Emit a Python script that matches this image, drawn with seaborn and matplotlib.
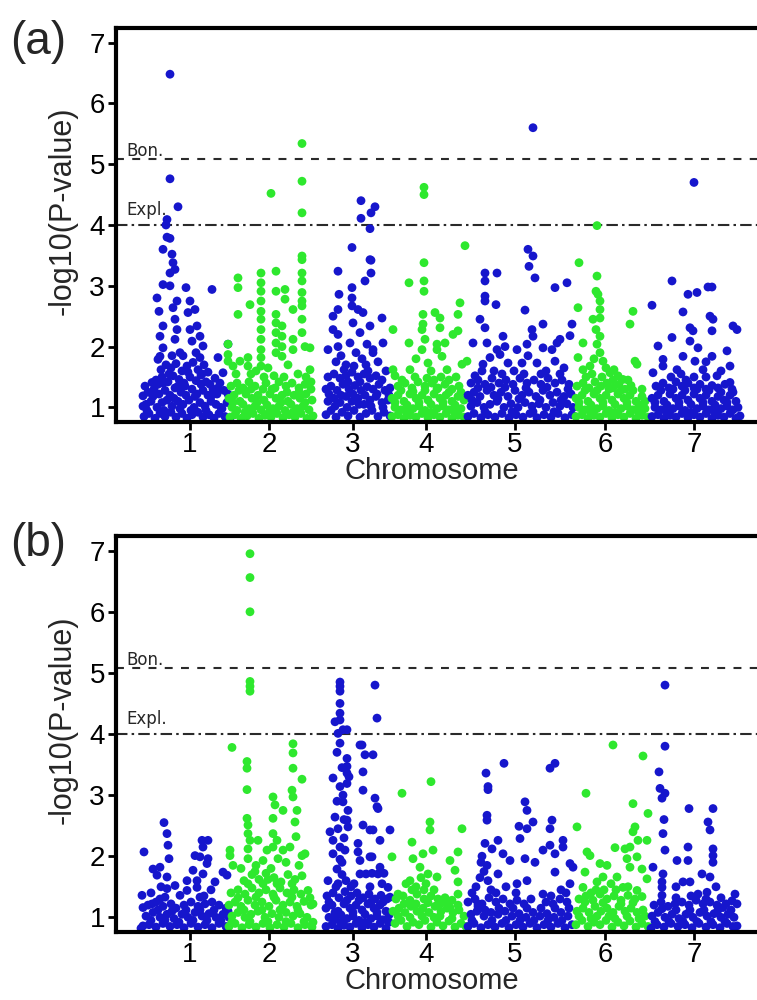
import pandas as pd
import seaborn as sns
import matplotlib.pyplot as plt

# chromosome layout (cumulative position, arbitrary Mb units)
chrom_labels = ['1', '2', '3', '4', '5', '6', '7']
chrom_start = [24, 112, 204, 272, 346, 454, 532]
chrom_end = [124, 194, 270, 348, 452, 524, 624]
bon_line = 5.08
expl_line = 4.0

# ---- panel (a): (cumulative position, -log10 p) per chromosome ----
a_chr1 = [(54,6.48),(54,4.76),(62,4.30),(51,4.09),(50,4.0),(51,3.8),(54,3.78),(47,3.6),(56,3.52),(57,3.38),
          (59,3.27),(54,3.21),(47,3.02),(54,3.0),(41,2.8),(61,2.75),(43,2.58),(57,2.64),(59,2.45),(47,2.34),
          (61,2.28),(44,2.17),(59,2.12),(47,1.98),(64,1.9),(44,1.84),(42,1.79),
          (70,2.97),(74,2.75),(79,2.61),(72,2.56),(81,2.34),(74,2.28),(84,2.17),(76,2.09),(87,2.01),(84,1.82),
          (96,2.94),(112,2.04),(102,1.82),(107,1.57),(94,1.38),(29,1.35),(27,1.19),(27,1.02),(36,1.41),
          (45,1.62),(50,1.7),(55,1.65),(60,1.72),(66,1.6),(71,1.68),(77,1.74),(82,1.62),(88,1.7),(92,1.58),
          (40,1.45),(46,1.5),(52,1.42),(57,1.52),(63,1.46),(68,1.4),(74,1.5),(80,1.44),(85,1.53),(90,1.42),(99,1.48),(104,1.4),
          (32,1.25),(38,1.3),(43,1.22),(49,1.28),(54,1.2),(59,1.32),(65,1.25),(70,1.2),(76,1.3),(81,1.22),(87,1.28),
          (92,1.2),(97,1.3),(101,1.22),(108,1.28),
          (30,1.05),(35,1.1),(41,1.0),(46,1.08),(51,1.12),(56,1.02),(62,1.1),(67,1.05),(73,1.12),(78,1.0),(84,1.08),
          (89,1.02),(95,1.1),(100,1.05),(105,1.0),(111,1.08),
          (28,0.85),(33,0.9),(39,0.82),(44,0.9),(49,0.85),(55,0.92),(60,0.84),(66,0.9),(71,0.82),(76,0.88),(82,0.92),
          (87,0.84),(93,0.88),(98,0.82),(103,0.9),(109,0.85),(114,0.82),
          (31,0.95),(37,1.18),(42,1.38),(48,0.95),(53,1.55),(58,1.15),(64,0.98),(69,1.35),(75,0.95),(79,1.18),(85,1.38),
          (90,0.95),(96,1.2),(102,1.32),(106,0.98),(112,1.22),(47,1.4),(62,1.35),(72,1.58),(86,1.55),(56,1.85),(67,1.85),(80,1.9)]
a_chr2 = [(155,4.52),(186,5.34),(186,4.72),(186,4.2),
          (122,3.13),(122,2.97),(122,2.53),(134,2.69),(145,3.21),(145,3.05),(145,2.91),(145,2.75),(145,2.58),(145,2.45),
          (145,2.28),(145,2.12),(145,1.95),(145,1.82),(145,1.68),(160,3.24),(160,2.91),(160,2.53),(160,2.39),(160,2.23),
          (160,2.06),(160,1.9),(169,2.94),(169,2.78),(166,2.34),(166,2.17),(166,2.0),(166,1.84),(177,2.61),(177,2.12),
          (177,1.95),(186,3.49),(186,3.43),(186,3.21),(186,3.08),(186,2.89),(186,2.75),(186,2.67),(186,2.45),(186,2.23),
          (189,2.0),(194,1.98),(194,1.62),(112,2.04),(112,1.87),(112,1.76),(117,1.68),(132,1.82),(132,1.68),(124,1.76),
          (140,1.6),(152,1.65),(172,1.7),(182,1.55),(190,1.5),
          (115,1.35),(121,1.4),(127,1.32),(133,1.42),(139,1.35),(150,1.4),(156,1.3),(163,1.42),(170,1.35),(176,1.4),
          (183,1.32),(189,1.38),(195,1.3),
          (113,1.15),(118,1.2),(124,1.1),(130,1.22),(136,1.15),(142,1.2),(148,1.12),(154,1.22),(160,1.15),(166,1.2),
          (172,1.1),(178,1.2),(184,1.15),(190,1.22),(196,1.12),
          (116,1.0),(121,0.95),(127,1.05),(133,0.98),(139,1.02),(145,0.96),(151,1.04),(157,0.98),(163,1.02),(169,0.95),
          (175,1.05),(181,0.98),(187,1.02),(193,0.96),
          (114,0.84),(119,0.88),(125,0.82),(131,0.86),(137,0.9),(143,0.82),(149,0.87),(155,0.84),(161,0.9),(167,0.83),
          (173,0.88),(179,0.84),(185,0.9),(191,0.82),(197,0.86),
          (117,1.08),(123,1.28),(129,0.92),(135,1.3),(141,1.08),(147,1.3),(153,0.92),(159,1.32),(165,1.08),(171,1.25),
          (177,0.92),(183,1.25),(189,1.08),(195,1.42),(135,1.55),(158,1.52),(168,1.5),(120,1.55),(148,1.5)]
a_chr3 = [(245,4.4),(245,4.11),(255,4.2),(259,4.3),(254,3.94),(236,3.63),(222,3.24),(223,2.86),(222,2.61),(217,2.5),
          (236,2.97),(236,2.8),(236,2.67),(237,2.39),(242,2.61),(247,2.56),(244,2.23),(249,3.08),(255,3.21),(255,3.42),
          (254,3.43),(266,2.47),(254,2.34),(267,2.06),(257,1.9),(212,1.95),(217,2.28),(234,2.06),(251,2.04),(257,1.95),
          (222,2.2),(222,2.0),(225,1.85),(220,1.75),(240,1.9),(246,1.8),(230,1.7),(262,1.75),(270,1.6),(250,1.7),
          (212,1.5),(218,1.55),(224,1.48),(230,1.52),(236,1.58),(242,1.5),(248,1.55),(254,1.48),(260,1.52),(266,1.45),
          (210,1.3),(215,1.35),(221,1.28),(227,1.38),(233,1.3),(239,1.36),(245,1.28),(251,1.34),(257,1.3),(263,1.38),
          (269,1.28),(274,1.32),
          (212,1.1),(218,1.15),(224,1.08),(230,1.18),(236,1.1),(242,1.15),(248,1.05),(254,1.12),(260,1.18),(266,1.08),(272,1.12),
          (210,0.88),(215,0.95),(220,0.84),(226,0.92),(232,0.86),(238,0.95),(244,0.84),(250,0.9),(256,0.95),(262,0.85),
          (268,0.92),(274,0.86),
          (213,1.22),(219,1.02),(225,1.2),(231,1.0),(237,1.22),(243,1.05),(249,1.2),(255,1.02),(261,1.22),(267,1.0),
          (273,1.2),(228,1.62),(238,1.68),(252,1.6),(244,1.42),(232,1.42)]
a_chr4 = [(349,3.66),(308,3.38),(308,3.08),(308,2.91),(293,3.05),(307,2.53),(307,2.37),(306,2.28),(319,2.56),(324,2.47),
          (324,2.31),(344,2.72),(342,2.53),(342,2.26),(277,2.28),(293,2.06),(309,2.12),(321,2.04),(329,2.06),(337,2.2),
          (351,1.76),(346,1.71),(277,1.62),(279,1.52),(294,1.62),(321,1.95),(326,1.84),(331,1.62),(306,1.95),(312,1.73),
          (308,4.62),(308,4.5),(300,1.8),(315,1.6),(340,1.5),(286,1.45),(318,1.45),
          (282,1.35),(289,1.4),(296,1.32),(302,1.42),(309,1.35),(316,1.4),(322,1.32),(329,1.38),(336,1.3),(343,1.35),
          (276,1.15),(282,1.2),(288,1.1),(294,1.22),(300,1.15),(306,1.2),(312,1.12),(318,1.22),(324,1.15),(330,1.2),
          (336,1.1),(342,1.18),(348,1.12),
          (279,1.0),(285,0.96),(291,1.04),(297,0.98),(303,1.02),(309,0.95),(315,1.05),(321,0.98),(327,1.02),(333,0.96),
          (339,1.04),(345,0.98),
          (276,0.85),(282,0.88),(288,0.82),(294,0.87),(300,0.84),(306,0.9),(312,0.83),(318,0.88),(324,0.84),(330,0.9),
          (336,0.82),(342,0.87),(348,0.84),
          (279,1.08),(285,1.28),(291,0.92),(297,1.26),(303,1.08),(309,1.28),(315,0.92),(321,1.3),(327,1.08),(333,1.25),
          (339,0.92),(345,1.25),(299,1.5),(311,1.48),(325,1.5),(333,1.45)]
a_chr5 = [(417,5.6),(412,3.6),(417,3.49),(413,3.32),(419,3.13),(369,3.21),(369,3.08),(381,3.21),(369,2.83),(369,2.75),
          (380,2.69),(364,2.45),(369,2.31),(409,2.6),(427,2.37),(416,2.28),(417,2.17),(387,2.17),(439,2.97),(451,3.05),
          (444,2.12),(441,2.06),(456,2.37),(454,2.18),(357,2.06),(371,2.06),(381,1.95),(389,2.0),(401,1.95),(411,2.04),
          (427,1.98),(436,1.95),(374,1.82),(384,1.87),(392,1.73),(406,1.73),(421,1.73),(439,1.76),(367,1.71),(359,1.52),
          (398,1.6),(430,1.6),(448,1.65),(412,1.85),(378,1.6),
          (355,1.4),(362,1.45),(369,1.38),(376,1.48),(383,1.4),(390,1.45),(397,1.38),(404,1.48),(411,1.4),(418,1.45),
          (425,1.38),(432,1.48),(439,1.4),(446,1.45),(453,1.38),
          (352,1.2),(358,1.25),(364,1.18),(371,1.28),(378,1.2),(385,1.25),(392,1.18),(399,1.28),(406,1.2),(413,1.25),
          (420,1.18),(427,1.28),(434,1.2),(441,1.25),(448,1.18),(455,1.22),
          (355,1.02),(361,1.08),(368,1.0),(374,1.05),(381,1.1),(388,1.0),(395,1.06),(402,1.0),(409,1.08),(416,1.02),
          (423,1.06),(430,1.0),(437,1.08),(444,1.02),(451,1.06),(457,1.0),
          (352,0.85),(358,0.9),(365,0.83),(372,0.88),(379,0.84),(386,0.9),(393,0.83),(400,0.88),(407,0.84),(414,0.9),
          (421,0.83),(428,0.88),(435,0.84),(442,0.9),(449,0.83),(456,0.88),
          (356,1.12),(362,1.32),(369,0.93),(375,1.33),(382,1.14),(389,1.33),(396,0.93),(403,1.14),(410,1.32),(417,0.93),
          (424,1.12),(431,1.33),(438,0.93),(445,1.12),(452,1.3),(366,1.6),(386,1.55),(408,1.55),(425,1.55),(444,1.55)]
a_chr6 = [(481,3.99),(463,3.38),(481,3.16),(480,2.91),(482,2.86),(484,2.75),(484,2.61),(462,2.64),(477,2.45),(484,2.47),
          (480,2.28),(484,2.17),(467,2.06),(481,2.04),(517,2.58),(514,2.37),(462,1.82),(484,1.9),(487,1.76),(519,1.76),
          (521,1.71),(467,1.62),(474,1.68),(494,1.57),(502,1.52),(507,1.46),(526,1.3),(478,1.8),(490,1.65),(470,1.5),(498,1.62),
          (461,1.35),(467,1.4),(473,1.32),(479,1.42),(485,1.35),(491,1.4),(497,1.32),(503,1.38),(509,1.3),(515,1.36),
          (460,1.15),(466,1.2),(472,1.1),(478,1.22),(484,1.15),(490,1.2),(496,1.12),(502,1.22),(508,1.15),(514,1.2),
          (520,1.1),(526,1.18),
          (463,1.0),(469,0.96),(475,1.04),(481,0.98),(487,1.02),(493,0.95),(499,1.05),(505,0.98),(511,1.02),(517,0.96),
          (523,1.04),(529,0.98),
          (460,0.85),(466,0.88),(472,0.82),(478,0.87),(484,0.84),(490,0.9),(496,0.83),(502,0.88),(508,0.84),(514,0.9),
          (520,0.82),(526,0.87),(532,0.84),
          (463,1.08),(469,1.28),(475,0.92),(481,1.28),(487,1.08),(493,1.3),(499,0.92),(505,1.28),(511,1.08),(517,1.28),
          (523,0.92),(529,1.1),(476,1.55),(486,1.5),(497,1.45),(512,1.45)]
a_chr7 = [(578,4.7),(556,3.08),(572,2.86),(581,2.89),(592,2.98),(596,2.98),(536,2.68),(567,2.57),(594,2.5),(597,2.45),
          (574,2.31),(577,2.26),(596,2.26),(617,2.34),(621,2.28),(556,2.15),(574,2.09),(542,2.01),(582,1.98),(567,1.84),
          (596,1.84),(611,1.93),(547,1.79),(579,1.76),(614,1.68),(547,1.68),(561,1.62),(537,1.57),(614,1.41),(601,1.52),
          (587,1.62),(555,1.5),(570,1.45),(590,1.75),(605,1.6),
          (540,1.35),(547,1.4),(553,1.32),(560,1.42),(566,1.35),(572,1.4),(578,1.32),(584,1.38),(590,1.3),(596,1.36),
          (602,1.32),(609,1.38),(616,1.3),
          (536,1.15),(542,1.2),(548,1.1),(554,1.22),(560,1.15),(566,1.2),(572,1.12),(578,1.22),(584,1.15),(590,1.2),
          (596,1.1),(602,1.18),(608,1.12),(614,1.2),(620,1.1),
          (539,1.0),(545,0.96),(551,1.04),(557,0.98),(563,1.02),(569,0.95),(575,1.05),(581,0.98),(587,1.02),(593,0.96),
          (599,1.04),(605,0.98),(611,1.02),(617,0.96),
          (536,0.85),(542,0.88),(548,0.82),(554,0.87),(560,0.84),(566,0.9),(572,0.83),(578,0.88),(584,0.84),(590,0.9),
          (596,0.82),(602,0.87),(608,0.84),(614,0.9),(620,0.82),(624,0.86),
          (539,1.08),(545,1.28),(551,0.92),(557,1.3),(563,1.08),(569,1.28),(575,0.92),(581,1.3),(587,1.08),(593,1.28),
          (599,0.92),(605,1.25),(611,1.08),(617,1.25),(622,1.0),(578,1.5),(590,1.5),(565,1.55)]

# ---- panel (b) ----
b_chr1 = [(28,2.07),(48,2.55),(51,2.37),(52,2.18),(53,1.96),(37,1.79),(44,1.82),(41,1.69),(51,1.66),(59,1.52),
          (51,1.47),(49,1.33),(26,1.36),(27,1.16),(27,0.86),(36,1.22),
          (86,2.26),(92,2.26),(87,2.15),(79,2.01),(84,1.99),(92,1.96),(91,1.88),(77,1.77),(87,1.71),(71,1.6),(81,1.6),
          (99,1.58),(107,1.74),(111,1.69),(71,1.44),(81,1.49),(84,1.33),(64,1.36),(95,1.45),(45,1.5),(35,1.4),
          (32,1.2),(40,1.25),(47,1.18),(55,1.22),(68,1.2),(75,1.25),(82,1.18),(89,1.22),(96,1.25),(103,1.2),(110,1.15),
          (30,1.02),(37,1.08),(44,1.0),(51,1.05),(58,0.98),(66,1.05),(72,1.0),(79,1.08),(86,1.02),(93,1.06),(100,1.0),
          (107,1.05),(113,1.0),
          (25,0.82),(33,0.88),(40,0.84),(47,0.9),(54,0.85),(61,0.88),(68,0.83),(75,0.9),(82,0.84),(89,0.88),(96,0.83),
          (103,0.9),(110,0.85),
          (35,0.95),(42,1.12),(49,0.95),(56,1.1),(63,0.92),(70,1.12),(77,0.95),(84,1.12),(91,0.95),(98,1.12),(105,0.95),
          (112,1.1),(60,1.15),(44,1.3),(88,1.35)]
b_chr2 = [(134,6.95),(134,6.56),(134,6.0),(134,4.86),(134,4.78),(134,4.7),(116,3.78),(177,3.84),(131,3.55),(131,3.44),
          (131,3.09),(131,2.62),(132,2.51),(132,2.37),(134,2.26),(132,2.12),(132,1.96),(114,2.1),(114,2.01),(117,1.85),
          (142,2.26),(157,2.97),(159,2.84),(167,2.75),(177,3.69),(177,3.44),(186,3.26),(176,3.08),(177,2.97),(181,2.75),
          (179,2.56),(180,2.32),(174,2.15),(186,2.01),(189,2.04),(157,2.62),(157,2.37),(161,2.26),(151,2.1),(157,2.15),
          (162,1.96),(147,1.93),(167,2.1),(197,1.22),(197,0.92),(170,1.9),(183,1.85),(125,1.8),(140,1.85),(155,1.8),
          (128,1.6),(136,1.7),(143,1.62),(150,1.72),(158,1.65),(165,1.58),(172,1.7),(179,1.62),(186,1.68),
          (115,1.4),(122,1.45),(129,1.38),(136,1.48),(143,1.4),(150,1.45),(157,1.38),(164,1.48),(171,1.4),(178,1.45),
          (185,1.38),(192,1.44),
          (113,1.2),(119,1.25),(125,1.18),(132,1.28),(139,1.2),(146,1.25),(153,1.18),(160,1.28),(167,1.2),(174,1.25),
          (181,1.18),(188,1.26),(195,1.2),
          (116,1.02),(122,1.08),(129,1.0),(135,1.05),(142,1.1),(149,1.0),(156,1.06),(163,1.0),(170,1.08),(177,1.02),
          (184,1.06),(191,1.0),
          (113,0.85),(119,0.9),(126,0.83),(133,0.88),(140,0.84),(147,0.9),(154,0.83),(161,0.88),(168,0.84),(175,0.9),
          (182,0.83),(189,0.88),(196,0.84),
          (116,0.93),(122,1.32),(128,1.12),(134,0.93),(140,1.33),(146,1.12),(152,0.93),(158,1.33),(164,1.12),(170,0.93),
          (176,1.33),(182,1.12),(188,0.93),(194,1.32),(132,1.55),(147,1.55),(161,1.55),(176,1.55),(139,1.75),(152,1.62)]
b_chr3 = [(224,4.85),(224,4.78),(224,4.7),(224,4.5),(224,4.34),(219,4.2),(224,4.23),(227,4.07),(231,4.07),(222,4.01),
          (224,3.85),(244,3.82),(259,4.8),(261,4.26),(246,3.82),(249,3.66),(231,3.6),(231,3.47),(231,3.36),(231,3.19),
          (227,3.0),(227,2.89),(232,2.75),(231,2.59),(232,2.48),(217,3.28),(224,3.14),(219,2.64),(214,2.4),(222,2.45),
          (217,2.26),(224,2.15),(217,2.04),(221,1.79),(247,3.38),(247,3.08),(259,2.95),(261,2.81),(247,2.51),(254,2.43),
          (242,2.21),(242,2.07),(244,1.93),(254,1.99),(244,1.71),(250,1.71),(256,1.72),(262,1.71),(268,1.72),(257,3.66),
          (262,2.78),(257,2.43),(274,2.43),(264,2.26),(256,1.99),(264,1.82),(272,1.49),(274,1.33),(228,2.3),(229,2.1),
          (226,1.9),(230,1.6),(222,1.55),(235,1.5),(212,1.6),
          (211,1.35),(217,1.4),(223,1.32),(229,1.42),(235,1.35),(241,1.4),(247,1.32),(253,1.38),(259,1.3),(265,1.36),(271,1.3),
          (210,1.15),(216,1.2),(222,1.1),(228,1.22),(234,1.15),(240,1.2),(246,1.12),(252,1.22),(258,1.15),(264,1.2),(270,1.1),
          (213,1.0),(219,0.96),(225,1.04),(231,0.98),(237,1.02),(243,0.95),(249,1.05),(255,0.98),(261,1.02),(267,0.96),(273,1.04),
          (210,0.85),(216,0.88),(222,0.82),(228,0.87),(234,0.84),(240,0.9),(246,0.83),(252,0.88),(258,0.84),(264,0.9),(270,0.82),
          (213,1.25),(219,1.08),(225,0.92),(231,1.28),(237,1.08),(243,1.28),(249,0.92),(255,1.25),(261,1.08),(267,1.25),
          (273,0.92),(220,1.5),(226,1.7),(224,1.95),(228,2.6),(221,2.9),(233,3.3),(238,1.55),(254,1.5),(266,1.55),
          (226,3.45),(221,3.7)]
b_chr4 = [(315,3.22),(286,3.03),(314,2.56),(314,2.43),(346,2.45),(296,2.23),(276,1.99),(297,1.96),(307,2.04),(317,2.1),
          (334,1.93),(342,2.07),(339,1.77),(342,1.58),(342,1.38),(304,1.82),(312,1.71),(321,1.66),(294,1.6),(282,1.38),
          (324,1.22),(334,1.16),(300,1.5),(310,1.55),(318,1.45),(305,1.65),
          (280,1.3),(287,1.35),(294,1.28),(301,1.38),(308,1.3),(315,1.35),(322,1.3),(329,1.32),(336,1.28),
          (277,1.1),(283,1.15),(289,1.08),(295,1.18),(301,1.1),(307,1.15),(313,1.08),(319,1.18),(325,1.1),(331,1.15),
          (337,1.08),(343,1.12),
          (279,0.9),(285,0.95),(291,0.85),(297,0.92),(303,0.88),(309,0.95),(315,0.84),(321,0.92),(327,0.86),(333,0.94),
          (339,0.84),(345,0.9),(350,0.85),
          (282,1.02),(288,1.22),(294,1.0),(300,1.22),(306,1.02),(312,1.24),(318,1.0),(324,1.02),(330,1.25),(336,0.98),
          (342,1.2),(348,1.02),(296,1.45),(308,1.45),(290,1.55)]
b_chr5 = [(388,3.52),(370,3.36),(372,3.14),(372,3.09),(371,2.67),(371,2.59),(409,2.89),(411,2.75),(417,2.56),(411,2.45),
          (403,2.49),(434,3.44),(439,3.52),(436,2.59),(434,2.45),(382,2.26),(369,2.21),(376,2.12),(404,2.29),(427,2.1),
          (434,2.18),(439,2.04),(447,2.26),(447,2.15),(454,1.88),(457,1.82),(371,1.85),(387,2.04),(394,1.93),(409,1.96),
          (419,1.9),(439,1.74),(454,1.55),(382,1.71),(401,1.55),(411,1.6),(427,1.38),(362,1.22),(365,1.9),(368,1.75),
          (372,1.6),(360,1.5),(375,1.45),(390,1.5),(445,1.45),
          (352,1.25),(359,1.3),(366,1.22),(373,1.32),(380,1.25),(387,1.3),(394,1.22),(401,1.28),(408,1.22),(415,1.3),
          (430,1.25),(437,1.22),(444,1.3),(451,1.25),
          (355,1.05),(361,1.1),(368,1.02),(375,1.08),(382,1.05),(389,1.1),(396,1.02),(403,1.06),(410,1.0),(417,1.08),
          (424,1.02),(431,1.06),(438,1.0),(445,1.08),(452,1.02),
          (352,0.85),(358,0.9),(365,0.83),(372,0.88),(379,0.84),(386,0.9),(393,0.83),(400,0.88),(407,0.84),(414,0.9),
          (421,0.83),(428,0.88),(435,0.84),(442,0.9),(449,0.83),(456,0.88),
          (356,0.95),(362,1.18),(369,1.12),(376,0.95),(383,1.15),(390,0.95),(397,1.15),(404,0.95),(411,1.15),(418,0.95),
          (425,1.15),(432,0.95),(439,1.15),(446,0.95),(453,1.15),(356,1.4),(364,1.65),(366,2.0),(380,1.4),(400,1.4),
          (435,1.35),(450,1.4)]
b_chr6 = [(497,3.82),(527,3.64),(470,3.03),(461,2.48),(517,2.86),(532,2.7),(519,2.48),(517,2.4),(471,2.07),(474,2.01),
          (499,2.14),(509,2.12),(514,2.15),(522,2.26),(531,2.26),(511,1.96),(521,1.99),(469,1.74),(484,1.88),(491,1.85),
          (514,1.82),(526,1.79),(531,1.63),(487,1.66),(501,1.66),(467,1.49),(481,1.58),(507,1.49),(521,1.44),(495,1.55),(475,1.4),
          (463,1.3),(470,1.35),(477,1.28),(484,1.38),(491,1.3),(498,1.35),(505,1.28),(512,1.36),(519,1.3),(526,1.34),
          (461,1.1),(467,1.15),(473,1.08),(479,1.18),(485,1.1),(491,1.15),(497,1.08),(503,1.18),(509,1.1),(515,1.15),
          (521,1.08),(527,1.12),
          (460,0.88),(466,0.95),(472,0.85),(478,0.92),(484,0.88),(490,0.95),(496,0.84),(502,0.92),(508,0.86),(514,0.94),
          (520,0.84),(526,0.9),(532,0.85),
          (463,1.02),(469,1.25),(475,0.98),(481,1.02),(487,1.24),(493,1.02),(499,0.98),(505,1.22),(511,1.02),(517,1.24),
          (523,0.98),(529,1.02),(488,1.45),(500,1.45),(512,1.5),(480,1.45)]
b_chr7 = [(549,4.8),(549,3.8),(543,3.38),(544,3.11),(549,3.03),(546,2.95),(547,2.37),(549,2.1),(537,1.82),(547,1.71),
          (546,1.58),(546,1.49),(546,1.36),(573,2.78),(597,2.78),(592,2.56),(594,2.43),(597,2.12),(597,2.01),(597,1.9),
          (572,2.15),(572,1.93),(561,1.93),(586,1.71),(594,1.66),(567,1.58),(574,1.58),(619,1.38),(621,1.22),(616,1.27),
          (607,1.16),(621,0.86),(582,1.38),(591,1.41),(548,2.6),(560,1.5),(600,1.5),
          (538,1.2),(545,1.25),(552,1.18),(559,1.22),(566,1.25),(573,1.2),(580,1.28),(587,1.22),(594,1.25),(601,1.2),(610,1.22),
          (536,1.02),(542,1.08),(549,1.0),(556,1.05),(563,0.98),(570,1.05),(577,1.0),(584,1.08),(591,1.02),(598,1.06),
          (605,1.0),(612,1.05),(618,1.0),
          (535,0.82),(541,0.88),(548,0.84),(555,0.9),(562,0.85),(569,0.88),(576,0.83),(583,0.9),(590,0.84),(597,0.88),
          (604,0.83),(611,0.9),(617,0.85),
          (539,0.93),(546,1.14),(553,0.93),(560,1.12),(567,0.93),(574,1.12),(581,0.93),(588,1.12),(595,0.93),(602,1.12),
          (609,0.93),(615,1.12),(560,1.32),(575,1.35),(590,1.3),(605,1.32)]

panel_a = [a_chr1, a_chr2, a_chr3, a_chr4, a_chr5, a_chr6, a_chr7]
panel_b = [b_chr1, b_chr2, b_chr3, b_chr4, b_chr5, b_chr6, b_chr7]


def to_frame(chroms):
    rows = []
    for i, pts in enumerate(chroms):
        for x, y in pts:
            rows.append({'pos': x, 'logp': y, 'chrom': chrom_labels[i],
                         'band': 'odd' if i % 2 == 0 else 'even'})
    return pd.DataFrame(rows)


sns.set_style('ticks')
plt.rcParams['font.family'] = ['Liberation Sans', 'DejaVu Sans']

fig = plt.figure(figsize=(7.57, 10), dpi=100)
left = 116 / 757
ax_a = fig.add_axes([left, 0.578, 1 - left, 0.394])
ax_b = fig.add_axes([left, 0.068, 1 - left, 0.396])
palette = {'odd': '#1616cc', 'even': '#2ee82e'}
ticks = [(s + e) / 2 for s, e in zip(chrom_start, chrom_end)]

for ax, chroms, tag, tag_y in [(ax_a, panel_a, '(a)', 0.958), (ax_b, panel_b, '(b)', 0.456)]:
    df = to_frame(chroms)
    sns.scatterplot(data=df, x='pos', y='logp', hue='band', palette=palette,
                    s=40, linewidth=0, legend=False, ax=ax, zorder=2)
    ax.set_xlim(0, 641)
    ax.set_ylim(0.76, 7.24)
    ax.set_xticks(ticks)
    ax.set_xticklabels(chrom_labels)
    ax.set_yticks(range(1, 8))
    ax.axhline(bon_line, color='#2a2a2a', lw=1.5, dashes=(3.8, 4.0), zorder=1)
    ax.axhline(expl_line, color='#2a2a2a', lw=1.5, dashes=(5.5, 2.0, 1.2, 2.0), zorder=1)
    ax.text(10, bon_line + 0.05, 'Bon.', fontsize=12, va='baseline',
            family=['Liberation Sans Narrow', 'DejaVu Sans'])
    ax.text(10, expl_line + 0.17, 'Expl.', fontsize=12, va='baseline',
            family=['Liberation Sans Narrow', 'DejaVu Sans'])
    ax.spines['right'].set_visible(False)
    for side in ['top', 'left', 'bottom']:
        ax.spines[side].set_linewidth(3)
        ax.spines[side].set_color('black')
    ax.tick_params(axis='both', direction='out', length=6, width=2, colors='black', labelsize=20)
    ax.tick_params(axis='x', pad=1)
    ax.tick_params(axis='y', pad=2)
    ax.set_xlabel('Chromosome', fontsize=21)
    ax.set_ylabel('-log10(P-value)', fontsize=22)
    ax.xaxis.set_label_coords(0.493, -0.088)
    ax.yaxis.set_label_coords(-0.06, 0.535)
    fig.text(0.05, tag_y, tag, fontsize=33, ha='center', va='center')

fig.savefig('out.png', dpi=100)
